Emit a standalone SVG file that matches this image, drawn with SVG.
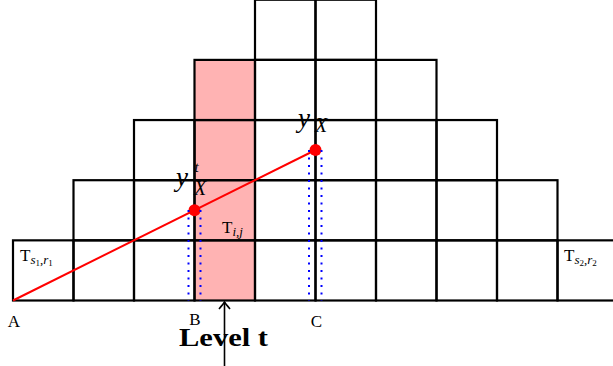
<svg xmlns="http://www.w3.org/2000/svg" width="613" height="366" viewBox="0 0 613 366">
<style>
.cell{fill:none;stroke:#000;stroke-width:2.2}
.hl{fill:#ffb3b3;stroke:none}
.red{stroke:#ff0000;stroke-width:2;fill:none}
.dot{fill:#ff0000}
.blue{stroke:#0000ff;stroke-width:2;stroke-dasharray:2 5.5;fill:none}
.t{font-family:"Liberation Serif","DejaVu Serif",serif;fill:#000}
.it{font-style:italic}
.arrow{stroke:#000;stroke-width:1.6;fill:none}
</style>
<defs>
<marker id="ah" markerUnits="userSpaceOnUse" orient="auto" markerWidth="20" markerHeight="20" refX="0" refY="0" viewBox="-10 -10 20 20" overflow="visible">
<path d="M -7 -5.5 Q -2 -1.2 0 0 Q -2 1.2 -7 5.5" stroke="#000" stroke-width="1.6" fill="none"/>
</marker>
</defs>
<g id="highlight">
<rect class="hl" x="194.5" y="59.9" width="60.5" height="240.6"/>
</g>
<g id="row1">
<rect id="T_s1_r1" class="cell" x="13" y="240.35" width="60.5" height="60.15"/>
<rect class="cell" x="73.5" y="240.35" width="60.5" height="60.15"/>
<rect class="cell" x="134" y="240.35" width="60.5" height="60.15"/>
<rect class="cell" x="194.5" y="240.35" width="60.5" height="60.15"/>
<rect class="cell" x="255" y="240.35" width="60.5" height="60.15"/>
<rect class="cell" x="315.5" y="240.35" width="60.5" height="60.15"/>
<rect class="cell" x="376" y="240.35" width="60.5" height="60.15"/>
<rect class="cell" x="436.5" y="240.35" width="60.5" height="60.15"/>
<rect class="cell" x="497" y="240.35" width="60.5" height="60.15"/>
<rect id="T_s2_r2" class="cell" x="557.5" y="240.35" width="60.5" height="60.15"/>
</g>
<g id="row2">
<rect class="cell" x="73.5" y="180.2" width="60.5" height="60.15"/>
<rect class="cell" x="134" y="180.2" width="60.5" height="60.15"/>
<rect class="cell" x="194.5" y="180.2" width="60.5" height="60.15"/>
<rect class="cell" x="255" y="180.2" width="60.5" height="60.15"/>
<rect class="cell" x="315.5" y="180.2" width="60.5" height="60.15"/>
<rect class="cell" x="376" y="180.2" width="60.5" height="60.15"/>
<rect class="cell" x="436.5" y="180.2" width="60.5" height="60.15"/>
<rect class="cell" x="497" y="180.2" width="60.5" height="60.15"/>
</g>
<g id="row3">
<rect class="cell" x="134" y="120.05" width="60.5" height="60.15"/>
<rect class="cell" x="194.5" y="120.05" width="60.5" height="60.15"/>
<rect class="cell" x="255" y="120.05" width="60.5" height="60.15"/>
<rect class="cell" x="315.5" y="120.05" width="60.5" height="60.15"/>
<rect class="cell" x="376" y="120.05" width="60.5" height="60.15"/>
<rect class="cell" x="436.5" y="120.05" width="60.5" height="60.15"/>
</g>
<g id="row4">
<rect class="cell" x="194.5" y="59.9" width="60.5" height="60.15"/>
<rect class="cell" x="255" y="59.9" width="60.5" height="60.15"/>
<rect class="cell" x="315.5" y="59.9" width="60.5" height="60.15"/>
<rect class="cell" x="376" y="59.9" width="60.5" height="60.15"/>
</g>
<g id="row5">
<rect class="cell" x="255" y="-0.25" width="60.5" height="60.15"/>
<rect class="cell" x="315.5" y="-0.25" width="60.5" height="60.15"/>
</g>
<g id="connectors">
<line class="red" x1="13" y1="300.5" x2="315.5" y2="150"/>
<circle class="dot" cx="194.5" cy="210.2" r="6"/>
<circle class="dot" cx="315.5" cy="150" r="6"/>
<line class="blue" x1="188.5" y1="210" x2="188.5" y2="300.5"/>
<line class="blue" x1="200.5" y1="210" x2="200.5" y2="300.5"/>
<line class="blue" x1="309" y1="150" x2="309" y2="300.5"/>
<line class="blue" x1="321.5" y1="150" x2="321.5" y2="300.5"/>
<line class="arrow" x1="224.5" y1="366" x2="224.5" y2="302" marker-end="url(#ah)"/>
</g>
<g id="labels">
<text class="t" x="20" y="261" font-size="17">T<tspan class="it" font-size="13" dy="3">s</tspan><tspan font-size="9" dy="2">1</tspan><tspan font-size="13" dy="-2">,</tspan><tspan class="it" font-size="13">r</tspan><tspan font-size="9" dy="2">1</tspan></text>
<text class="t" x="222" y="233" font-size="17">T<tspan class="it" font-size="13" dy="3">i,j</tspan></text>
<text class="t" x="564" y="261" font-size="17">T<tspan class="it" font-size="13" dy="3">s</tspan><tspan font-size="9" dy="2">2</tspan><tspan font-size="13" dy="-2">,</tspan><tspan class="it" font-size="13">r</tspan><tspan font-size="9" dy="2">2</tspan></text>
<text class="t it" x="298" y="127" font-size="27">y</text>
<text class="t it" x="315" y="132" font-size="20">X</text>
<text class="t it" x="176" y="186" font-size="27">y</text>
<text class="t it" x="194.5" y="172" font-size="15">t</text>
<text class="t it" x="194" y="195" font-size="20">X</text>
<text class="t" x="14" y="327" font-size="17" text-anchor="middle">A</text>
<text class="t" x="195" y="325" font-size="17" text-anchor="middle">B</text>
<text class="t" x="316.5" y="327" font-size="17" text-anchor="middle">C</text>
<text class="t" x="179" y="346" font-size="25" font-weight="bold" textLength="89" lengthAdjust="spacingAndGlyphs">Level t</text>
</g>
</svg>
